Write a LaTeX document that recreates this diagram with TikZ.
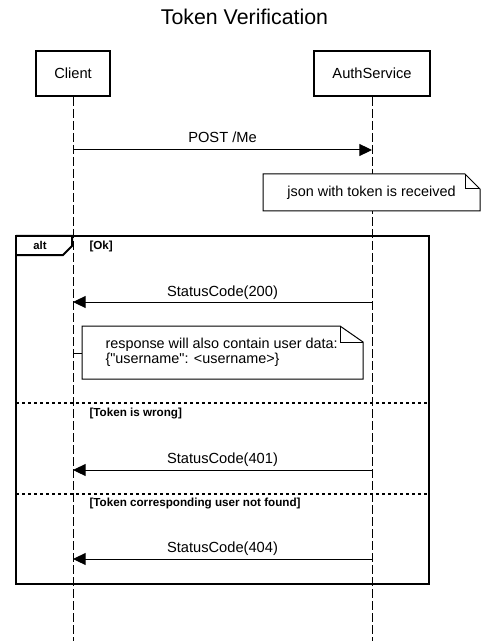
\documentclass[tikz,border=0pt]{standalone}
\usepackage{fontspec}
\setmainfont{Liberation Sans}
\usetikzlibrary{arrows.meta}

\tikzset{every picture/.style={line width=0.75pt}}
\tikzset{
	actor/.style={draw, line width=1.5pt, minimum height=33.75pt, inner sep=0pt, font=\fontsize{11}{13}\selectfont},
	lifeline/.style={dash pattern=on 6.75pt off 2.25pt},
	msg/.style={-{Triangle[length=9.5pt,width=9pt]}},
	msglabel/.style={anchor=base, font=\fontsize{11}{13}\selectfont},
	notebox/.style={draw, fill=white},
	notetext/.style={font=\fontsize{10.8}{11}\selectfont},
	frame/.style={draw, line width=1.5pt},
	altline/.style={line width=1.5pt, dash pattern=on 2.25pt off 2.25pt},
	guard/.style={anchor=west, inner sep=0pt, font=\fontsize{8.75}{10}\selectfont\bfseries},
}

\begin{document}
\begin{tikzpicture}[x=0.75pt,y=0.75pt,yscale=-1,xscale=1]
	\useasboundingbox (0,0) rectangle (488,641);

	% Title
	\node[anchor=base, font=\fontsize{16}{19}\selectfont] (title) at (244.5,25) {Token Verification};

	% Actors
	\node[actor, minimum width=55.5pt] (client) at (73,73.5) {Client};
	\node[actor, minimum width=87pt] (auth) at (372,73.5) {AuthService};

	% Lifeline ends and message points
	\coordinate (clientEnd) at (73,641);
	\coordinate (authEnd) at (372,641);
	\coordinate (c1) at (73,150);   \coordinate (a1) at (372,150);
	\coordinate (c2) at (73,302);   \coordinate (a2) at (372,302);
	\coordinate (c3) at (73,470);   \coordinate (a3) at (372,470);
	\coordinate (c4) at (73,559);   \coordinate (a4) at (372,559);
	\coordinate (c5) at (73,353);   \coordinate (noteW) at (82,353);

	% Lifelines
	\draw[lifeline] (client.south) -- (clientEnd);
	\draw[lifeline] (auth.south) -- (authEnd);

	% Request
	\draw[msg] (c1) -- (a1);
	\node[msglabel] (post) at (222.5,143) {POST /Me};

	% Note: json received
	\draw[notebox] (263,174) -- (465,174) -- (480,189) -- (480,211) -- (263,211) -- cycle;
	\draw (465,174) -- (465,189) -- (480,189);
	\node[notetext] (jsonNote) at (371.5,192.5) {json with token is received};

	% Alt frame
	\draw[frame] (16,236) rectangle (429,584);
	\draw[line width=1.5pt] (16,236) -- (72,236) -- (72,246) -- (63,255) -- (16,255);
	\node[font=\fontsize{8.5}{10}\selectfont\bfseries] (alt) at (40,245.5) {alt};
	\node[guard] (okGuard) at (89,246.5) {[Ok]};

	% Ok
	\draw[msg] (a2) -- (c2);
	\node[msglabel] (ok) at (222.5,296) {StatusCode(200)};
	\draw[notebox] (82,326) -- (340,326) -- (363,342) -- (363,379) -- (82,379) -- cycle;
	\draw (340,326) -- (340,342) -- (363,342);
	\node[notetext, anchor=west, align=left, inner sep=0pt] (dataNote) at (105,352.5) {response will also contain user data:\\\{\textquotedbl username\textquotedbl: <username>\}};
	\draw (c5) -- (noteW);

	% Token is wrong
	\draw[altline] (16,403) -- (429,403);
	\node[guard] (wrongGuard) at (89,414) {[Token is wrong]};
	\draw[msg] (a3) -- (c3);
	\node[msglabel] (wrong) at (222.5,463.5) {StatusCode(401)};

	% User not found
	\draw[altline] (16,494) -- (429,494);
	\node[guard] (notFoundGuard) at (89,504) {[Token corresponding user not found]};
	\draw[msg] (a4) -- (c4);
	\node[msglabel] (notFound) at (222.5,552.5) {StatusCode(404)};

\end{tikzpicture}
\end{document}
